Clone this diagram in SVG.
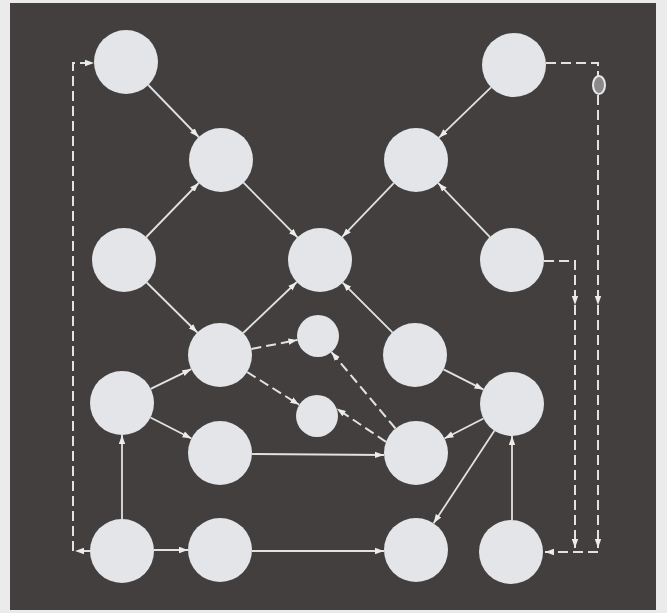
<svg xmlns="http://www.w3.org/2000/svg" width="667" height="613" viewBox="0 0 667 613">
<style>
.node{fill:#e3e5e8}
.e{stroke:#e2e2e2;stroke-width:1.8;fill:none;marker-end:url(#ah)}
.d{stroke:#e2e2e2;stroke-width:2;fill:none;stroke-dasharray:10 5}
.da{marker-end:url(#ah)}
</style>
<defs>
<marker id="ah" markerUnits="userSpaceOnUse" markerWidth="10" markerHeight="8" refX="9" refY="4" orient="auto">
<path d="M0,0.8 L9,4 L0,7.2 z" fill="#ececec"/>
</marker>
</defs>
<rect x="0" y="0" width="667" height="613" fill="#ebebeb"/>
<rect x="10" y="3" width="646" height="607" fill="#423f3e"/>
<g id="connectors">
<line class="e" x1="148.3" y1="85" x2="198.7" y2="137"/>
<line class="e" x1="146.3" y1="237" x2="198.7" y2="183"/>
<line class="e" x1="243.5" y1="182.7" x2="297.5" y2="237.3"/>
<line class="e" x1="491" y1="87.3" x2="439" y2="137.7"/>
<line class="e" x1="393.8" y1="183.1" x2="342.2" y2="236.9"/>
<line class="e" x1="489.8" y1="236.9" x2="438.2" y2="183.1"/>
<line class="e" x1="146.7" y1="282.5" x2="197.3" y2="332.5"/>
<line class="e" x1="243.2" y1="333" x2="296.8" y2="282"/>
<line class="e" x1="392.4" y1="332.4" x2="342.6" y2="282.6"/>
<line class="e" x1="150.7" y1="388.9" x2="191.3" y2="369.1"/>
<line class="e" x1="150.5" y1="417.5" x2="191.5" y2="438.5"/>
<line class="e" x1="122" y1="519" x2="122" y2="435"/>
<line class="e" x1="154" y1="550" x2="188" y2="550"/>
<line class="e" x1="252" y1="551" x2="384" y2="551"/>
<line class="e" x1="252" y1="454" x2="384" y2="455"/>
<line class="e" x1="443.5" y1="369.4" x2="483.5" y2="389.6"/>
<line class="e" x1="483.5" y1="418.5" x2="444.5" y2="438.5"/>
<line class="e" x1="494.4" y1="430.7" x2="433.6" y2="523.3"/>
<line class="e" x1="512" y1="520" x2="512" y2="436"/>
<line class="d da" x1="251.4" y1="348.9" x2="297.4" y2="340"/>
<line class="d da" x1="247.1" y1="372" x2="299.2" y2="404.8"/>
<line class="d da" x1="395.5" y1="428.5" x2="331.5" y2="352.1"/>
<line class="d da" x1="386" y1="441.8" x2="336.7" y2="408.6"/>
<path class="d da" d="M90,551 L75,551"/>
<path class="d da" d="M73,551 L73,63 L94,63"/>
<path class="d" d="M546,63 L598,63 L598,76"/>
<path class="d da" d="M598,95 L598,305"/>
<path class="d da" d="M598,305 L598,548"/>
<path class="d da" d="M598,552 L545,552"/>
<path class="d da" d="M544,261 L575,261 L575,305"/>
<path class="d da" d="M575,305 L575,548"/>
<ellipse cx="599" cy="85" rx="6" ry="9" fill="#8a8a8a" stroke="#e8e8e8" stroke-width="2"/>
</g>
<g id="A"><circle class="node" cx="126" cy="62" r="32"/></g>
<g id="B"><circle class="node" cx="221" cy="160" r="32"/></g>
<g id="C"><circle class="node" cx="124" cy="260" r="32"/></g>
<g id="D"><circle class="node" cx="320" cy="260" r="32"/></g>
<g id="E"><circle class="node" cx="514" cy="65" r="32"/></g>
<g id="F"><circle class="node" cx="416" cy="160" r="32"/></g>
<g id="G"><circle class="node" cx="512" cy="260" r="32"/></g>
<g id="H"><circle class="node" cx="220" cy="355" r="32"/></g>
<g id="I"><circle class="node" cx="318" cy="336" r="21"/></g>
<g id="J"><circle class="node" cx="317" cy="416" r="21"/></g>
<g id="K"><circle class="node" cx="122" cy="403" r="32"/></g>
<g id="L"><circle class="node" cx="220" cy="453" r="32"/></g>
<g id="M"><circle class="node" cx="122" cy="551" r="32"/></g>
<g id="N"><circle class="node" cx="220" cy="550" r="32"/></g>
<g id="O"><circle class="node" cx="415" cy="355" r="32"/></g>
<g id="P"><circle class="node" cx="512" cy="404" r="32"/></g>
<g id="Q"><circle class="node" cx="416" cy="453" r="32"/></g>
<g id="R"><circle class="node" cx="416" cy="550" r="32"/></g>
<g id="S"><circle class="node" cx="511" cy="552" r="32"/></g>
</svg>
